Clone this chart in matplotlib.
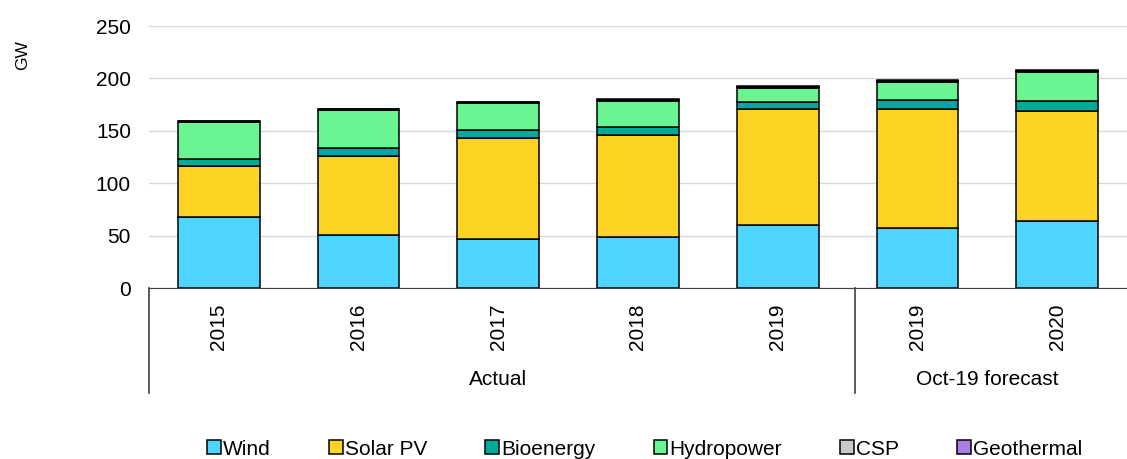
import matplotlib.pyplot as plt
import numpy as np

plt.rcParams['font.family'] = ['Liberation Sans', 'DejaVu Sans']

years = ['2015', '2016', '2017', '2018', '2019', '2019', '2020']
groups = ['Actual', 'Oct-19 forecast']
group_sizes = [5, 2]

wind = [68, 50.5, 46.5, 49, 60, 57.5, 64]
solar = [48, 75, 96.5, 97, 110.5, 113, 105]
bioenergy = [7, 8.5, 7.5, 8, 7, 8.5, 9]
hydro = [35.5, 35.5, 26, 24, 13.5, 17.5, 28]
csp = [0.4, 0.9, 0.7, 1.0, 0.8, 1.2, 1.2]
geothermal = [0.5, 0.8, 0.7, 0.9, 0.7, 1.2, 1.1]

series = [
    ('Wind', wind, '#4DD4FF'),
    ('Solar PV', solar, '#FDD324'),
    ('Bioenergy', bioenergy, '#00AA9A'),
    ('Hydropower', hydro, '#6AF592'),
    ('CSP', csp, '#C8C8C8'),
    ('Geothermal', geothermal, '#A97FE6'),
]

fig = plt.figure(figsize=(11.27, 4.59), dpi=100)
ax = fig.add_axes([149 / 1127, 1 - 288 / 459, 1 - 149 / 1127, (288 - 26) / 459])

x = np.arange(len(years))
bottom = np.zeros(len(years))
for name, vals, col in series:
    ax.bar(x, vals, 0.585, bottom=bottom, color=col, edgecolor='black',
           linewidth=1.1, label=name, zorder=3)
    bottom += np.array(vals)

ax.set_xlim(-0.5, len(years) - 0.5)
ax.set_ylim(0, 250)
ax.set_yticks(range(0, 251, 50))
ax.yaxis.grid(True, color='#D9D9D9', linewidth=1)
ax.set_axisbelow(True)
for s in ['top', 'right', 'left']:
    ax.spines[s].set_visible(False)
ax.spines['bottom'].set_color('#404040')
ax.tick_params(axis='y', length=0, pad=13, labelsize=15)
ax.set_xticks(x)
ax.set_xticklabels(years, rotation=90, fontsize=15)
ax.tick_params(axis='x', length=0, pad=11)
ax.set_ylabel('GW', fontsize=12.5)
ax.yaxis.set_label_coords(-0.122, 0.89)

# group separators and labels below the axis
trans = ax.get_xaxis_transform()
seps = [-0.5, 4.55]
start = -0.5
for g, n, sx in zip(groups, group_sizes, seps):
    ax.plot([sx, sx], [0, -0.40], color='#404040', lw=1.2,
            transform=trans, clip_on=False)
    ax.text(start + n / 2, -0.35, g, ha='center', va='center', fontsize=15,
            transform=trans)
    start += n

handles, labels = ax.get_legend_handles_labels()
fig.legend(handles, labels, loc='lower center', bbox_to_anchor=(0.572, -0.04),
           ncol=6, frameon=False, fontsize=15, handlelength=0.65,
           handleheight=0.65, handletextpad=0.1, columnspacing=2.8)

fig.savefig('out.png', dpi=100)
